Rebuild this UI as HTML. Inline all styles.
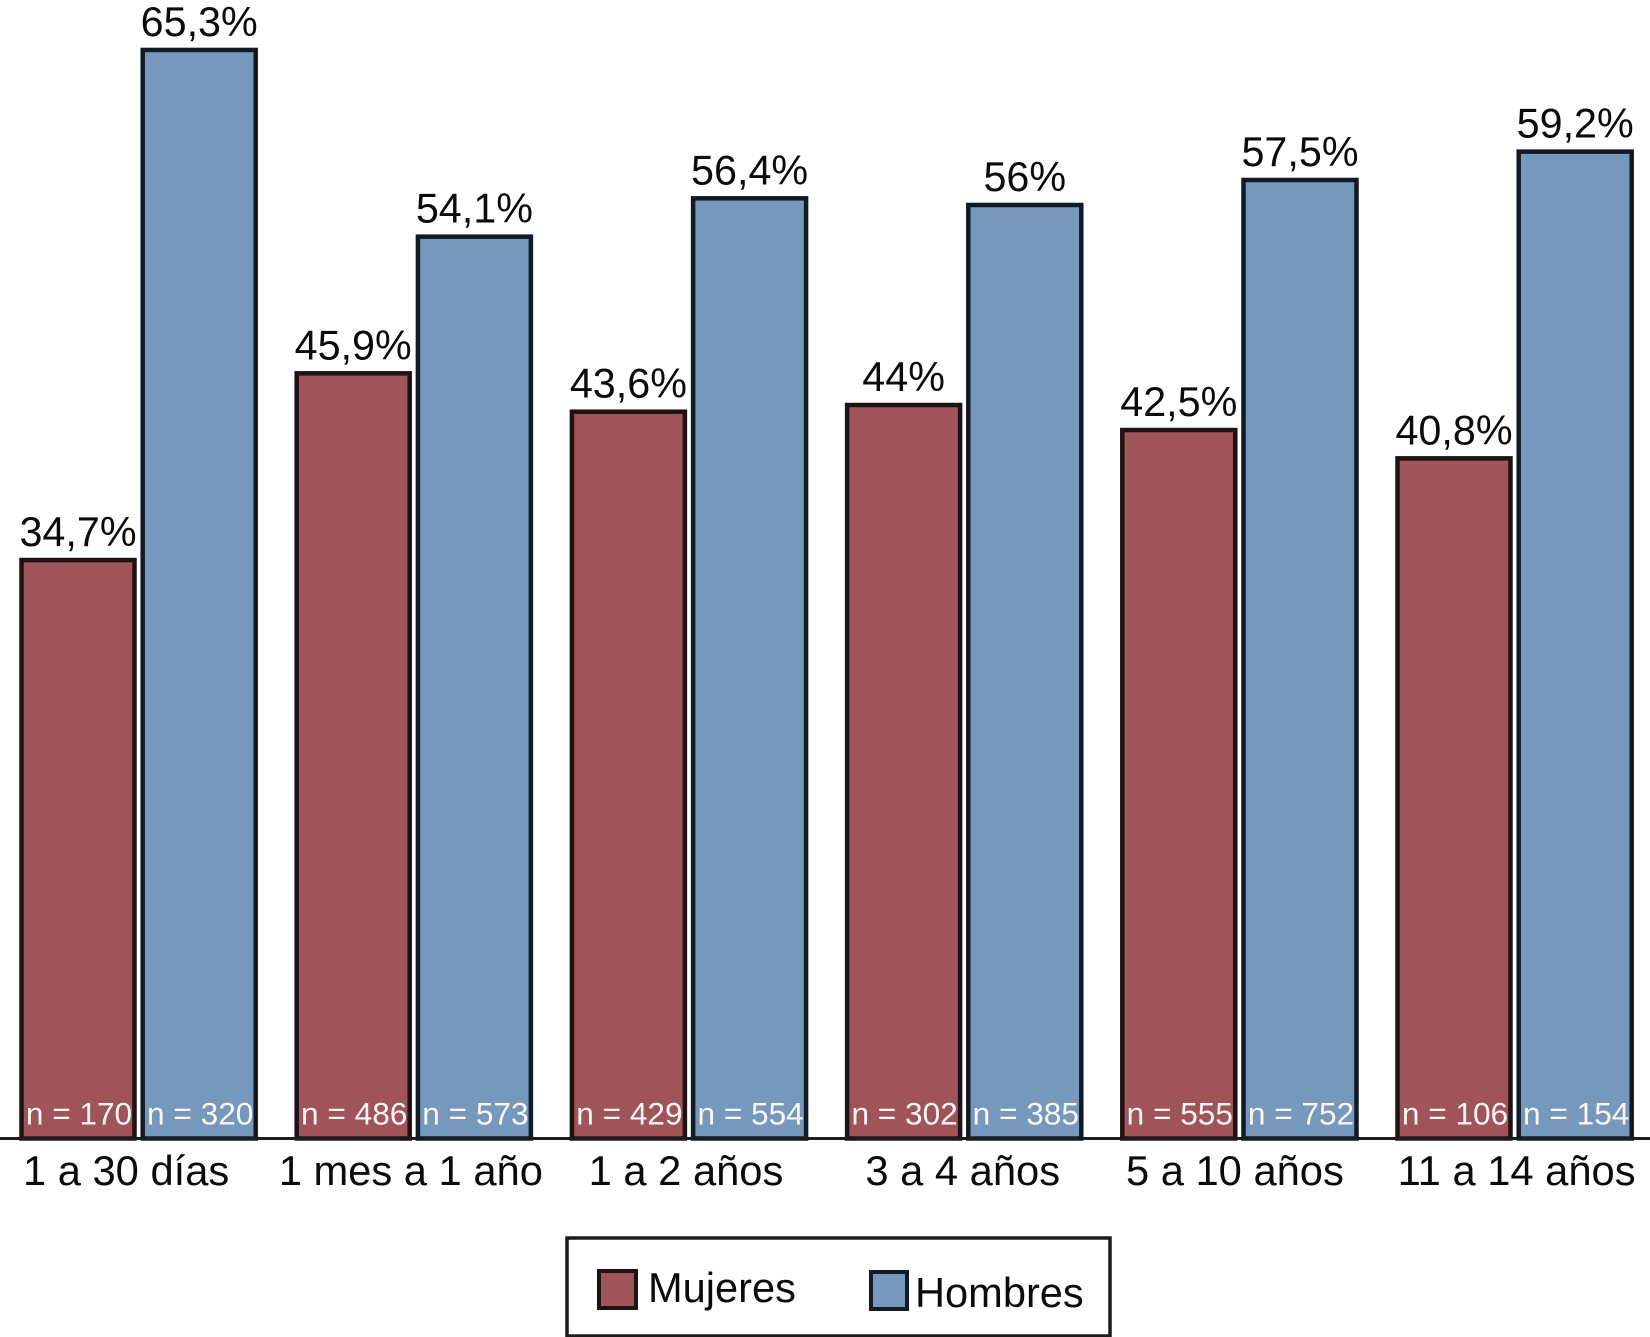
<!DOCTYPE html>
<html lang="es">
<head>
<meta charset="utf-8">
<title>Distribución por sexo y edad</title>
<style>
  html, body { margin: 0; padding: 0; background: #fff; }
  body { width: 1650px; height: 1337px; overflow: hidden; }
  svg { display: block; }
  text { font-family: "Liberation Sans", Arial, sans-serif; }
  .value-text { font-size: 41.3px; fill: #0b0b0b; text-anchor: middle; }
  .n-text { font-size: 31.6px; fill: #fbf6f4; text-anchor: middle; }
  .cat-text { font-size: 41.7px; fill: #0b0b0b; text-anchor: middle; }
  .legend-text { font-size: 41.6px; fill: #0b0b0b; }
</style>
</head>
<body>
<svg id="chart" xmlns="http://www.w3.org/2000/svg" width="1650" height="1337" viewBox="0 0 1650 1337">
  <g id="bars"></g>
  <g id="labels"></g>
  <line x1="0" x2="1650" y1="1138.5" y2="1138.5" stroke="#1c1c1c" stroke-width="3"></line>
  <g id="categories"></g>
  <g>
    <rect x="567" y="1238" width="543" height="98" fill="#fff" stroke="#1c1c1c" stroke-width="3.5"></rect>
    <rect x="599" y="1271" width="37" height="37" fill="#9f5459" stroke="#1d1214" stroke-width="4"></rect>
    <text class="legend-text" x="648" y="1302">Mujeres</text>
    <rect x="871" y="1272" width="36" height="37" fill="#7698bd" stroke="#121a24" stroke-width="4"></rect>
    <text class="legend-text" x="915" y="1307">Hombres</text>
  </g>
</svg>
<script>
const categories = ["1 a 30 días", "1 mes a 1 año", "1 a 2 años", "3 a 4 años", "5 a 10 años", "11 a 14 años"];
const mujeres = [34.7, 45.9, 43.6, 44, 42.5, 40.8];
const hombres = [65.3, 54.1, 56.4, 56, 57.5, 59.2];
const nMujeres = [170, 486, 429, 302, 555, 106];
const nHombres = [320, 573, 554, 385, 752, 154];

const SVG_NS = "http://www.w3.org/2000/svg";
const BASELINE = 1138.5;
const PX_PER_PERCENT = 16.67;
const BAR_WIDTH = 113;
const STROKE = 4.5;
const SERIES_OFFSET = 121.2;
const FIRST_LEFT = 21.5;
const GROUP_STEP = 275.2;
const TICK_LABEL_NUDGE = [-12.5, -3, -3, -1.5, -4.5, 2];

function xGroup(i) { return FIRST_LEFT + GROUP_STEP * i; }
function yValue(v) { return BASELINE - v * PX_PER_PERCENT; }
function formatValue(v) { return String(v).replace(".", ",") + "%"; }

const barsLayer = document.getElementById("bars");
const labelsLayer = document.getElementById("labels");
const catLayer = document.getElementById("categories");

function drawBar(left, value, count, fill, edge, seriesName, i) {
  const top = yValue(value);
  const rect = document.createElementNS(SVG_NS, "rect");
  rect.setAttribute("x", left);
  rect.setAttribute("y", top);
  rect.setAttribute("width", BAR_WIDTH);
  rect.setAttribute("height", BASELINE - top);
  rect.setAttribute("fill", fill);
  rect.setAttribute("stroke", edge);
  rect.setAttribute("stroke-width", STROKE);
  
  
  barsLayer.appendChild(rect);

  const valueText = document.createElementNS(SVG_NS, "text");
  valueText.setAttribute("class", "value-text");
  valueText.setAttribute("x", left + BAR_WIDTH / 2);
  valueText.setAttribute("y", top - 14);
  valueText.textContent = formatValue(value);
  
  
  labelsLayer.appendChild(valueText);

  const nText = document.createElementNS(SVG_NS, "text");
  nText.setAttribute("class", "n-text");
  nText.setAttribute("x", left + BAR_WIDTH / 2 + 1);
  nText.setAttribute("y", BASELINE - 14);
  nText.textContent = "n = " + count;
  
  
  labelsLayer.appendChild(nText);
}

categories.forEach(function (cat, i) {
  const left = xGroup(i);
  drawBar(left, mujeres[i], nMujeres[i], "#9f5459", "#1d1214", "mujeres", i);
  drawBar(left + SERIES_OFFSET, hombres[i], nHombres[i], "#7698bd", "#121a24", "hombres", i);

  const t = document.createElementNS(SVG_NS, "text");
  t.setAttribute("class", "cat-text");
  t.setAttribute("x", left + (SERIES_OFFSET + BAR_WIDTH) / 2 + TICK_LABEL_NUDGE[i]);
  t.setAttribute("y", 1185);
  t.textContent = cat;
  
  
  catLayer.appendChild(t);
});
</script>
</body>
</html>
